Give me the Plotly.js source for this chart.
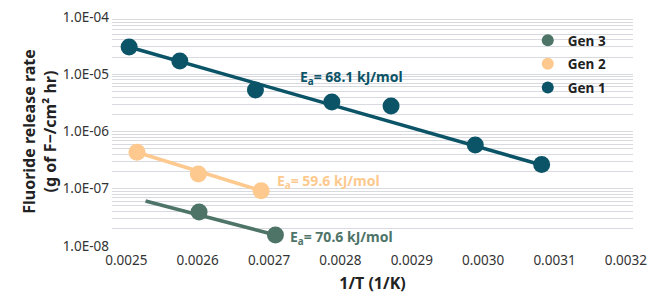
<!DOCTYPE html>
<html>
<head>
<meta charset="utf-8">
<script src="https://cdn.plot.ly/plotly-3.0.1.min.js"></script>
<style>html,body{margin:0;padding:0;background:#fff;}#chart{width:649px;height:296px;}</style>
</head>
<body>
<div id="chart"></div>
<script>
// Gen 1 data
const gen1X = [0.002504, 0.002575, 0.002681, 0.002788, 0.002871, 0.002989, 0.003082];
const gen1Y = [2.99e-5, 1.70e-5, 5.3e-6, 3.27e-6, 2.79e-6, 5.8e-7, 2.65e-7];
const gen1FitX = [0.002504, 0.003082];
const gen1FitY = [2.99e-5, 2.6e-7];
// Gen 2 data
const gen2X = [0.002515, 0.002601, 0.002689];
const gen2Y = [4.34e-7, 1.81e-7, 9.25e-8];
const gen2FitX = [0.002515, 0.002689];
const gen2FitY = [4.34e-7, 9.25e-8];
// Gen 3 data
const gen3X = [0.002602, 0.002709];
const gen3Y = [3.93e-8, 1.56e-8];
const gen3FitX = [0.002527, 0.002709];
const gen3FitY = [6.1e-8, 1.56e-8];
// Tick labels
const yTickVals = [1e-8, 1e-7, 1e-6, 1e-5, 1e-4];
const yTickText = ["1.0E-08", "1.0E-07", "1.0E-06", "1.0E-05", "1.0E-04"];
const xTickVals = [0.0025, 0.0026, 0.0027, 0.0028, 0.0029, 0.0030, 0.0031, 0.0032];
const xTickText = ["0.0025", "0.0026", "0.0027", "0.0028", "0.0029", "0.0030", "0.0031", "0.0032"];
// Activation energy labels
const eaLabels = ["E<sub>a</sub>= 68.1 kJ/mol", "E<sub>a</sub>= 59.6 kJ/mol", "E<sub>a</sub>= 70.6 kJ/mol"];
const eaX = [0.002741, 0.002708, 0.002726];
const eaY = [8.95e-6, 1.36e-7, 1.38e-8];

const C1 = '#0b5467', C2 = '#fdc98e', C3 = '#4e7468';
const FONT = 'Noto Sans, sans-serif';

const traces = [
  {x: gen1FitX, y: gen1FitY, mode: 'lines', line: {color: C1, width: 3.5}, showlegend: false, hoverinfo: 'skip'},
  {x: gen2FitX, y: gen2FitY, mode: 'lines', line: {color: C2, width: 3.5}, showlegend: false, hoverinfo: 'skip'},
  {x: gen3FitX, y: gen3FitY, mode: 'lines', line: {color: C3, width: 3.5}, showlegend: false, hoverinfo: 'skip'},
  {x: gen3X, y: gen3Y, mode: 'markers', name: 'Gen 3', legendgroup: 'g3', marker: {color: C3, size: 17}},
  {x: gen2X, y: gen2Y, mode: 'markers', name: 'Gen 2', legendgroup: 'g2', marker: {color: C2, size: 17}},
  {x: gen1X, y: gen1Y, mode: 'markers', name: 'Gen 1', legendgroup: 'g1', marker: {color: C1, size: 17}}
];

const colors = [C1, C2, C3];
const annotations = eaLabels.map((t, i) => ({
  x: eaX[i], y: Math.log10(eaY[i]), xref: 'x', yref: 'y', text: '<b>' + t + '</b>',
  showarrow: false, xanchor: 'left', yanchor: 'middle',
  font: {family: FONT, size: 14, color: colors[i]}
}));

const layout = {
  width: 649, height: 296,
  margin: {l: 112, r: 16, t: 17, b: 50},
  paper_bgcolor: '#fff', plot_bgcolor: '#fff',
  font: {family: FONT, color: '#222'},
  showlegend: true,
  legend: {
    x: 0.798, y: 0.965, xanchor: 'left', yanchor: 'top',
    traceorder: 'grouped', tracegroupgap: 3,
    bgcolor: 'rgba(0,0,0,0)',
    font: {family: FONT, size: 13.5, weight: 'bold'},
    itemsizing: 'constant'
  },
  xaxis: {
    range: [0.00248, 0.00321],
    tickvals: xTickVals, ticktext: xTickText,
    showgrid: false, zeroline: false, showline: false, ticks: '',
    ticklabelstandoff: 4,
    tickfont: {family: FONT, size: 13.5, color: '#333'},
    title: {text: '<b>1/T (1/K)</b>', font: {family: FONT, size: 16, color: '#222'}, standoff: 10}
  },
  yaxis: {
    type: 'log', range: [-8, -4],
    tickvals: yTickVals, ticktext: yTickText,
    showgrid: true, gridcolor: '#d9dadf', gridwidth: 1,
    minor: {dtick: 'D1', showgrid: true, gridcolor: '#d9dadf', gridwidth: 1, ticks: ''},
    zeroline: false, showline: false, ticks: '',
    ticklabelstandoff: 2,
    tickfont: {family: FONT, size: 13.5, color: '#333'},
    title: {text: '<b>Fluoride release rate<br>(g of F\u2212/cm\u00b2 hr)</b>', font: {family: FONT, size: 16, color: '#222'}, standoff: 2}
  },
  annotations: annotations
};

Plotly.newPlot('chart', traces, layout, {displayModeBar: false, staticPlot: true});
</script>
</body>
</html>
